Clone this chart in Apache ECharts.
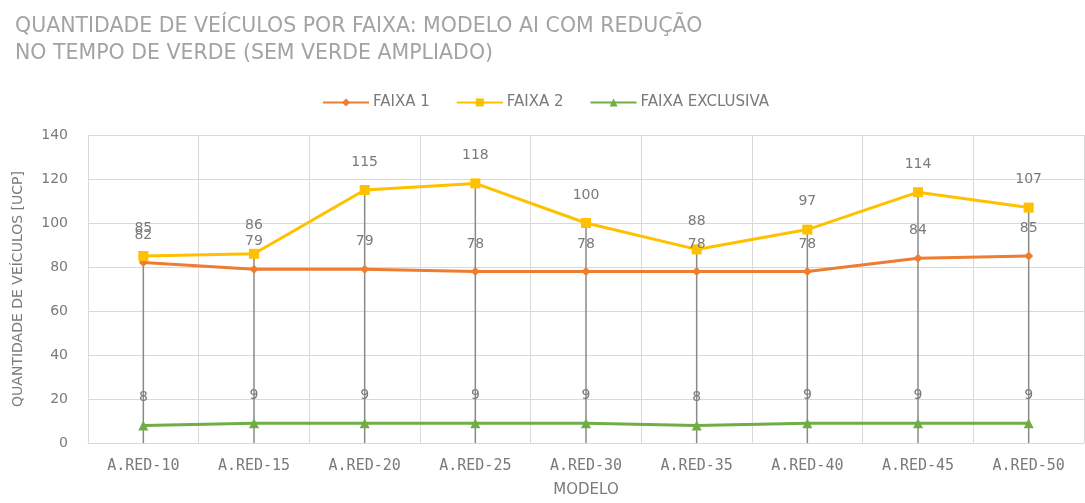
<!DOCTYPE html>
<html><head><meta charset="utf-8">
<script src="https://cdn.jsdelivr.net/npm/echarts@6/dist/echarts.min.js"></script>
<style>html,body{margin:0;padding:0;background:#fff}#c{width:1085px;height:503px}</style>
</head><body><div id="c"></div>
<script>
const categories = ['A.RED-10','A.RED-15','A.RED-20','A.RED-25','A.RED-30','A.RED-35','A.RED-40','A.RED-45','A.RED-50'];
const faixa1 = [82, 79, 79, 78, 78, 78, 78, 84, 85];
const faixa2 = [85, 86, 115, 118, 100, 88, 97, 114, 107];
const faixaExclusiva = [8, 9, 9, 9, 9, 8, 9, 9, 9];
const yTicks = [0, 20, 40, 60, 80, 100, 120, 140];

const dropLines = categories.map((c, i) => Math.max(faixa1[i], faixa2[i], faixaExclusiva[i]));
const labelStyle = { show: true, position: 'top', distance: 16, color: '#7a7a7a', fontSize: 14, fontFamily: 'DejaVu Sans' };

const chart = echarts.init(document.getElementById('c'));
chart.setOption({
  animation: false,
  title: {
    text: 'QUANTIDADE DE VEÍCULOS POR FAIXA: MODELO AI COM REDUÇÃO\nNO TEMPO DE VERDE (SEM VERDE AMPLIADO)',
    left: 10, top: 8,
    textStyle: { color: '#a3a3a3', fontSize: 20.5, fontWeight: 'normal', fontFamily: 'DejaVu Sans', lineHeight: 27 }
  },
  legend: {
    top: 90, left: 317,
    itemWidth: 46, itemHeight: 10, itemGap: 26,
    textStyle: { color: '#7a7a7a', fontSize: 15, fontFamily: 'DejaVu Sans', padding: [0, 0, 0, -1] },
    data: ['FAIXA 1', 'FAIXA 2', 'FAIXA EXCLUSIVA']
  },
  grid: { left: 88, right: 1, top: 135, bottom: 59 },
  xAxis: {
    type: 'category', data: categories, boundaryGap: true,
    name: 'MODELO', nameLocation: 'middle', nameGap: 40,
    nameTextStyle: { color: '#7a7a7a', fontSize: 15, fontFamily: 'DejaVu Sans' },
    axisLine: { lineStyle: { color: '#d9d9d9' } },
    axisTick: { show: false },
    axisLabel: { color: '#7a7a7a', fontSize: 15, fontFamily: 'DejaVu Sans Mono', margin: 16 },
    splitLine: { show: true, lineStyle: { color: '#d9d9d9' } }
  },
  yAxis: {
    type: 'value', min: yTicks[0], max: yTicks[yTicks.length - 1], interval: 20,
    name: 'QUANTIDADE DE VEÍCULOS [UCP]', nameLocation: 'middle', nameGap: 63, nameRotate: 90,
    nameTextStyle: { color: '#7a7a7a', fontSize: 14, fontFamily: 'DejaVu Sans' },
    axisLine: { show: false }, axisTick: { show: false },
    axisLabel: { color: '#7a7a7a', fontSize: 14, fontFamily: 'DejaVu Sans', margin: 20 },
    splitLine: { lineStyle: { color: '#d9d9d9' } }
  },
  series: [
    { name: 'drop', type: 'bar', data: dropLines, barWidth: 1.5, silent: true, z: 1,
      itemStyle: { color: '#8a8a8a' }, legendHoverLink: false, tooltip: { show: false } },
    { name: 'FAIXA 1', type: 'line', data: faixa1, z: 3, symbol: 'diamond', symbolSize: 9,
      color: '#ED7D31', lineStyle: { width: 3, color: '#ED7D31' }, itemStyle: { color: '#ED7D31' }, label: labelStyle },
    { name: 'FAIXA 2', type: 'line', data: faixa2, z: 3, symbol: 'rect', symbolSize: 10,
      color: '#FFC000', lineStyle: { width: 3, color: '#FFC000' }, itemStyle: { color: '#FFC000' }, label: labelStyle },
    { name: 'FAIXA EXCLUSIVA', type: 'line', data: faixaExclusiva, z: 3, symbol: 'triangle', symbolSize: 10,
      color: '#70AD47', lineStyle: { width: 3, color: '#70AD47' }, itemStyle: { color: '#70AD47' }, label: labelStyle }
  ]
});
</script></body></html>
